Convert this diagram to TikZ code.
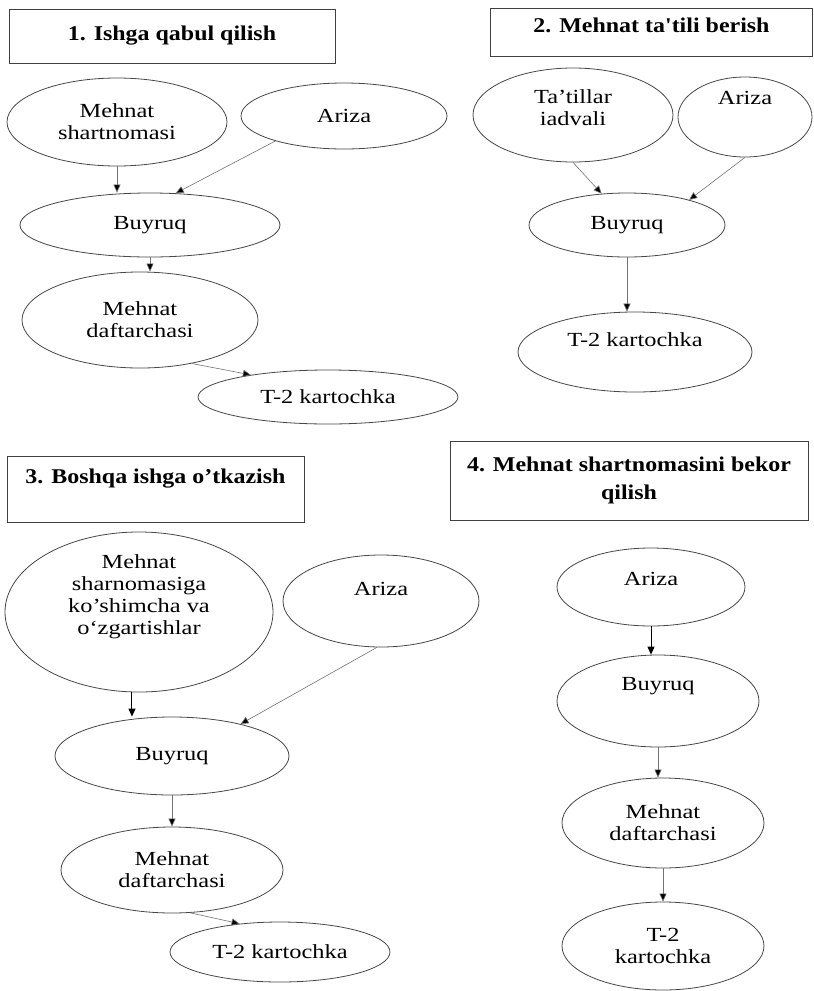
\documentclass[tikz,border=0pt]{standalone}
\usepackage{fontspec}
\setmainfont{Liberation Serif}[FakeStretch=1.22]
\newfontfamily\titlefont{Liberation Serif}[FakeStretch=1.14]
\usetikzlibrary{arrows.meta,shapes.geometric}
\newcommand{\liftlines}[2]{\raisebox{#1}[0pt][0pt]{\begin{tabular}{@{}c@{}}#2\end{tabular}}}
\begin{document}
\begin{tikzpicture}[x=1pt,y=-1pt,
  el/.style={ellipse, draw=black!72, line width=0.8pt, inner sep=0pt, align=center,
    font=\fontsize{20}{22}\selectfont},
  tbox/.style={rectangle, draw=black!75, line width=0.8pt, inner sep=0pt, align=center,
    font=\titlefont\fontsize{21}{28}\selectfont\bfseries},
  arr/.style={draw=black!55, line width=0.6pt, -{Triangle[length=8pt,width=7pt,fill=black]}},
  arrd/.style={draw=black, line width=1pt, -{Triangle[length=8pt,width=7pt]}}]
\fill[white] (0,0) rectangle (814,991);
\useasboundingbox (0,0) rectangle (814,991);

% titles
\node[tbox, minimum width=326pt, minimum height=54pt] (b1) at (172,36) {1. Ishga qabul qilish};
\node[tbox, minimum width=322pt, minimum height=48pt, text height=14pt, text depth=14pt] (b2) at (651.5,32) {2. Mehnat ta'tili berish};
\node[tbox, minimum width=297pt, minimum height=66pt, text height=14pt, text depth=26pt] (b3) at (155.5,489) {3. Boshqa ishga o’tkazish};
\node[tbox, minimum width=358pt, minimum height=79pt] (b4) at (629,480.5) {4. Mehnat shartnomasini bekor\\qilish};

% section 1
\node[el, minimum width=220pt, minimum height=88pt] (ms1) at (117,122) {Mehnat\\shartnomasi};
\node[el, minimum width=206pt, minimum height=66pt] (ar1) at (344,116) {Ariza};
\node[el, minimum width=260pt, minimum height=64pt] (bu1) at (150,225) {Buyruq};
\node[el, minimum width=236pt, minimum height=96pt] (md1) at (140,320) {Mehnat\\daftarchasi};
\node[el, minimum width=260pt, minimum height=54pt] (t21) at (328,397) {T-2 kartochka};

% section 2
\node[el, minimum width=200pt, minimum height=94pt] (tj2) at (573,115) {\liftlines{0pt}{Ta'tillar\\iadvali}};
\node[el, minimum width=134pt, minimum height=80pt, text height=13pt, text depth=39pt] (ar2) at (745,117) {Ariza};
\node[el, minimum width=196pt, minimum height=64pt] (bu2) at (627,225) {Buyruq};
\node[el, minimum width=234pt, minimum height=80pt, text height=13pt, text depth=25pt] (t22) at (635,352) {T-2 kartochka};

% section 3
\node[el, minimum width=268pt, minimum height=160pt] (ms3) at (139,612) {\liftlines{10pt}{Mehnat\\sharnomasiga\\ko’shimcha va\\o‘zgartishlar}};
\node[el, minimum width=196pt, minimum height=92pt, text height=13pt, text depth=25pt] (ar3) at (381,601) {Ariza};
\node[el, minimum width=234pt, minimum height=78pt] (bu3) at (172,756) {Buyruq};
\node[el, minimum width=222pt, minimum height=86pt] (md3) at (172,870) {Mehnat\\daftarchasi};
\node[el, minimum width=220pt, minimum height=60pt] (t23) at (280,952) {T-2 kartochka};

% section 4
\node[el, minimum width=188pt, minimum height=78pt, text height=13pt, text depth=17pt] (ar4) at (651,587) {Ariza};
\node[el, minimum width=202pt, minimum height=92pt, text height=13pt, text depth=35pt] (bu4) at (658,701) {Buyruq};
\node[el, minimum width=202pt, minimum height=90pt] (md4) at (663,823) {Mehnat\\daftarchasi};
\node[el, minimum width=202pt, minimum height=88pt] (t24) at (663,946) {T-2\\kartochka};

% connectors
\draw[arr] (ms1.south) -- (ms1.south |- bu1.north);
\draw[arr] (ar1.200) -- (bu1.51);
\draw[arr] (bu1.south) -- (bu1.south |- md1.north);
\draw[arr] (md1.320) -- (t21.164);
\draw[arr] (tj2.south) -- (bu2.129);
\draw[arr] (ar2.south) -- (bu2.22);
\draw[arr] (bu2.south) -- (bu2.south |- t22.north);
\draw[arrd] (ms3.265) -- (ms3.265 |- bu3.north);
\draw[arr] (ar3.265) -- (bu3.25);
\draw[arr] (bu3.south) -- (bu3.south |- md3.north);
\draw[arr] (md3.293) -- (t23.145);
\draw[arrd] (ar4.south) -- (ar4.south |- bu4.north);
\draw[arr] (bu4.south) -- (bu4.south |- md4.north);
\draw[arr] (md4.south) -- (md4.south |- t24.north);
\end{tikzpicture}
\end{document}
